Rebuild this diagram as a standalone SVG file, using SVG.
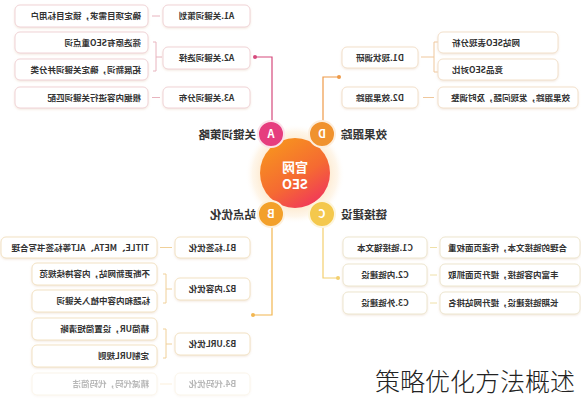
<svg xmlns="http://www.w3.org/2000/svg" width="581" height="400" viewBox="0 0 581 400">
<defs>
<style>
text{font-family:"Noto Sans CJK SC","Noto Sans",sans-serif;}
.t{font-size:8.5px;font-weight:bold;fill:#333;}
.m{text-anchor:middle}
.e{text-anchor:end}
.bx{fill:#fff;filter:url(#sh);stroke-width:1}
.a{stroke:#f0d3d6}
.d{stroke:#f2e0cb}
.b{stroke:#f2e2c4}
.c{stroke:#ede6cf}
.lbl{font-size:11.5px;font-weight:bold;fill:#333}
.ln{fill:none;stroke-width:1.2}
.sm{fill:none;stroke-width:1}
.let{font-size:11px;font-weight:bold;fill:#fff;text-anchor:middle}
</style>
<filter id="sh" x="-10%" y="-40%" width="120%" height="180%"><feDropShadow dx="0" dy="1" stdDeviation="1.3" flood-color="#d9b99a" flood-opacity="0.35"/></filter>
<linearGradient id="cg" x1="0.2" y1="0.05" x2="0.8" y2="1"><stop offset="0" stop-color="#f7931f"/><stop offset="0.55" stop-color="#f56a32"/><stop offset="1" stop-color="#f0335e"/></linearGradient>
<radialGradient id="halo" cx="0.5" cy="0.5" r="0.5"><stop offset="0.6" stop-color="#fde3c0" stop-opacity="0.9"/><stop offset="0.85" stop-color="#fef0dc" stop-opacity="0.6"/><stop offset="1" stop-color="#fff" stop-opacity="0"/></radialGradient>
</defs>
<rect width="581" height="400" fill="#fff"/>

<g id="connectors">
<path class="sm" stroke="#e8b4be" d="M152,16H160M153,42H156V71H153M156,57H162M152,97.5H160"/>
<path class="sm" stroke="#efc79c" d="M438,42H434V72H438M434,57H421M423,97.5H434"/>
<path class="sm" stroke="#f0d099" d="M160,247.5H172M163,274H166V303H163M166,289H172M163,329H166V358H163M166,344H172"/>
<path class="sm" stroke="#f0d099" opacity="0.35" d="M160,384H172"/>
<path class="sm" stroke="#efe0a8" d="M430,247.5H437M430,275H437M430,303H437"/>
<path class="ln" stroke="#d64a7c" d="M255,57H272V122"/><circle cx="255" cy="57" r="2" fill="#d64a7c"/>
<path class="ln" stroke="#ee9a48" d="M339,77H323V122"/><circle cx="339" cy="77" r="2" fill="#ee9a48"/>
<path class="ln" stroke="#f2b650" d="M272,226V315H253"/><circle cx="253" cy="315" r="2" fill="#f2b650"/>
<path class="ln" stroke="#f3cf6e" d="M323,226V278H338"/><circle cx="338" cy="278" r="2" fill="#f3cf6e"/>
</g>

<g id="center">
<circle cx="295" cy="174" r="50" fill="url(#halo)"/>
<circle cx="295" cy="173" r="35" fill="url(#cg)"/>
<text class="let" style="font-size:13px" transform="matrix(-1 0 0 1 295 172)">官网</text>
<text class="let" style="font-size:13px" transform="matrix(-1 0 0 1 295 189)">SEO</text>
</g>

<g id="hubA">
<circle cx="271" cy="134" r="13" fill="#e63d7e" stroke="#fbe3ea" stroke-width="2"/>
<text class="let" transform="matrix(-1 0 0 1 271 138)">A</text>
<text class="lbl" transform="matrix(-1 0 0 1 256 139)">关键词策略</text>
</g>
<g id="hubD">
<circle cx="322" cy="134" r="13" fill="#f0922e" stroke="#fdeedd" stroke-width="2"/>
<text class="let" transform="matrix(-1 0 0 1 322 138)">D</text>
<text class="lbl e" transform="matrix(-1 0 0 1 341 139)">效果跟踪</text>
</g>
<g id="hubB">
<circle cx="271" cy="214" r="13" fill="#f3a02a" stroke="#fdf0dc" stroke-width="2"/>
<text class="let" transform="matrix(-1 0 0 1 271 218)">B</text>
<text class="lbl" transform="matrix(-1 0 0 1 256 219)">站点优化</text>
</g>
<g id="hubC">
<circle cx="322" cy="214" r="13" fill="#f4c84d" stroke="#fdf5dc" stroke-width="2"/>
<text class="let" transform="matrix(-1 0 0 1 322 218)">C</text>
<text class="lbl e" transform="matrix(-1 0 0 1 341 219)">链接建设</text>
</g>

<g id="A1"><rect class="bx a" x="163" y="5" width="87" height="22" rx="5"/><text class="t m" transform="matrix(-1 0 0 1 206.5 19)">A1.关键词策划</text></g>
<g id="A1-1"><rect class="bx a" x="15" y="5" width="133" height="22" rx="5"/><text class="t" transform="matrix(-1 0 0 1 141 19)">确定项目需求，锁定目标用户</text></g>
<g id="A2"><rect class="bx a" x="163" y="47" width="87" height="22" rx="5"/><text class="t m" transform="matrix(-1 0 0 1 206.5 61)">A2.关键词选择</text></g>
<g id="A2-1"><rect class="bx a" x="15" y="32" width="133" height="21" rx="5"/><text class="t" transform="matrix(-1 0 0 1 141 45.5)">筛选原有SEO重点词</text></g>
<g id="A2-2"><rect class="bx a" x="15" y="59" width="133" height="21" rx="5"/><text class="t" transform="matrix(-1 0 0 1 141 72.5)">拓展新词，确定关键词并分类</text></g>
<g id="A3"><rect class="bx a" x="163" y="87" width="87" height="21" rx="5"/><text class="t m" transform="matrix(-1 0 0 1 206.5 100.5)">A3.关键词分布</text></g>
<g id="A3-1"><rect class="bx a" x="15" y="87" width="133" height="21" rx="5"/><text class="t" transform="matrix(-1 0 0 1 141 100.5)">根据内容进行关键词匹配</text></g>

<g id="D1"><rect class="bx d" x="342" y="47" width="76" height="21" rx="5"/><text class="t m" transform="matrix(-1 0 0 1 380 60.5)">D1.现状调研</text></g>
<g id="D1-1"><rect class="bx d" x="438" y="32" width="120" height="21" rx="5"/><text class="t e" transform="matrix(-1 0 0 1 452 45.5)">网站SEO表现分析</text></g>
<g id="D1-2"><rect class="bx d" x="438" y="59" width="120" height="21" rx="5"/><text class="t e" transform="matrix(-1 0 0 1 452 72.5)">竞品SEO对比</text></g>
<g id="D2"><rect class="bx d" x="342" y="87" width="76" height="21" rx="5"/><text class="t m" transform="matrix(-1 0 0 1 380 100.5)">D2.效果跟踪</text></g>
<g id="D2-1"><rect class="bx d" x="438" y="87" width="140" height="21" rx="5"/><text class="t e" transform="matrix(-1 0 0 1 451 100.5)">效果跟踪，发现问题，及时调整</text></g>

<g id="B1"><rect class="bx b" x="175" y="237" width="75" height="21" rx="5"/><text class="t m" transform="matrix(-1 0 0 1 212.5 250.5)">B1.标签优化</text></g>
<g id="B1-1"><rect class="bx b" x="1" y="237" width="156" height="21" rx="5"/><text class="t" transform="matrix(-1 0 0 1 149 250.5)">TITLE、META、ALT等标签书写合理</text></g>
<g id="B2"><rect class="bx b" x="175" y="278" width="75" height="22" rx="5"/><text class="t m" transform="matrix(-1 0 0 1 212.5 292)">B2.内容优化</text></g>
<g id="B2-1"><rect class="bx b" x="32" y="263" width="125" height="22" rx="5"/><text class="t" transform="matrix(-1 0 0 1 150 277)">不断更新网站，内容持续规范</text></g>
<g id="B2-2"><rect class="bx b" x="32" y="290" width="125" height="22" rx="5"/><text class="t" transform="matrix(-1 0 0 1 150 304)">标题和内容中植入关键词</text></g>
<g id="B3"><rect class="bx b" x="175" y="333" width="75" height="22" rx="5"/><text class="t m" transform="matrix(-1 0 0 1 212.5 347)">B3.URL优化</text></g>
<g id="B3-1"><rect class="bx b" x="32" y="318" width="125" height="22" rx="5"/><text class="t" transform="matrix(-1 0 0 1 149 332)">精简UR，设置简短清晰</text></g>
<g id="B3-2"><rect class="bx b" x="32" y="345" width="125" height="22" rx="5"/><text class="t" transform="matrix(-1 0 0 1 149 359)">定制URL规则</text></g>
<g id="B4" opacity="0.35"><rect class="bx b" x="175" y="373" width="75" height="22" rx="5"/><text class="t m" transform="matrix(-1 0 0 1 212.5 387)">B4.代码优化</text></g>
<g id="B4-1" opacity="0.35"><rect class="bx b" x="32" y="373" width="125" height="22" rx="5"/><text class="t" transform="matrix(-1 0 0 1 149 387)">精减代码，代码简洁</text></g>

<g id="C1"><rect class="bx c" x="343" y="237" width="84" height="21" rx="5"/><text class="t m" transform="matrix(-1 0 0 1 385 250.5)">C1.链接锚文本</text></g>
<g id="C1-1"><rect class="bx c" x="440" y="237" width="140" height="21" rx="5"/><text class="t e" transform="matrix(-1 0 0 1 448 250.5)">合理的链接文本，传递页面权重</text></g>
<g id="C2"><rect class="bx c" x="343" y="264" width="84" height="22" rx="5"/><text class="t m" transform="matrix(-1 0 0 1 385 278)">C2.内链建设</text></g>
<g id="C2-1"><rect class="bx c" x="440" y="264" width="140" height="22" rx="5"/><text class="t e" transform="matrix(-1 0 0 1 448 278)">丰富内容链接，提升页面抓取</text></g>
<g id="C3"><rect class="bx c" x="343" y="292" width="84" height="22" rx="5"/><text class="t m" transform="matrix(-1 0 0 1 385 306)">C3.外链建设</text></g>
<g id="C3-1"><rect class="bx c" x="440" y="292" width="140" height="22" rx="5"/><text class="t e" transform="matrix(-1 0 0 1 448 306)">长期链接建设，提升网站排名</text></g>

<g id="caption"><text x="375" y="391" style="font-size:25px;font-weight:300;fill:#222">策略优化方法概述</text></g>
</svg>
